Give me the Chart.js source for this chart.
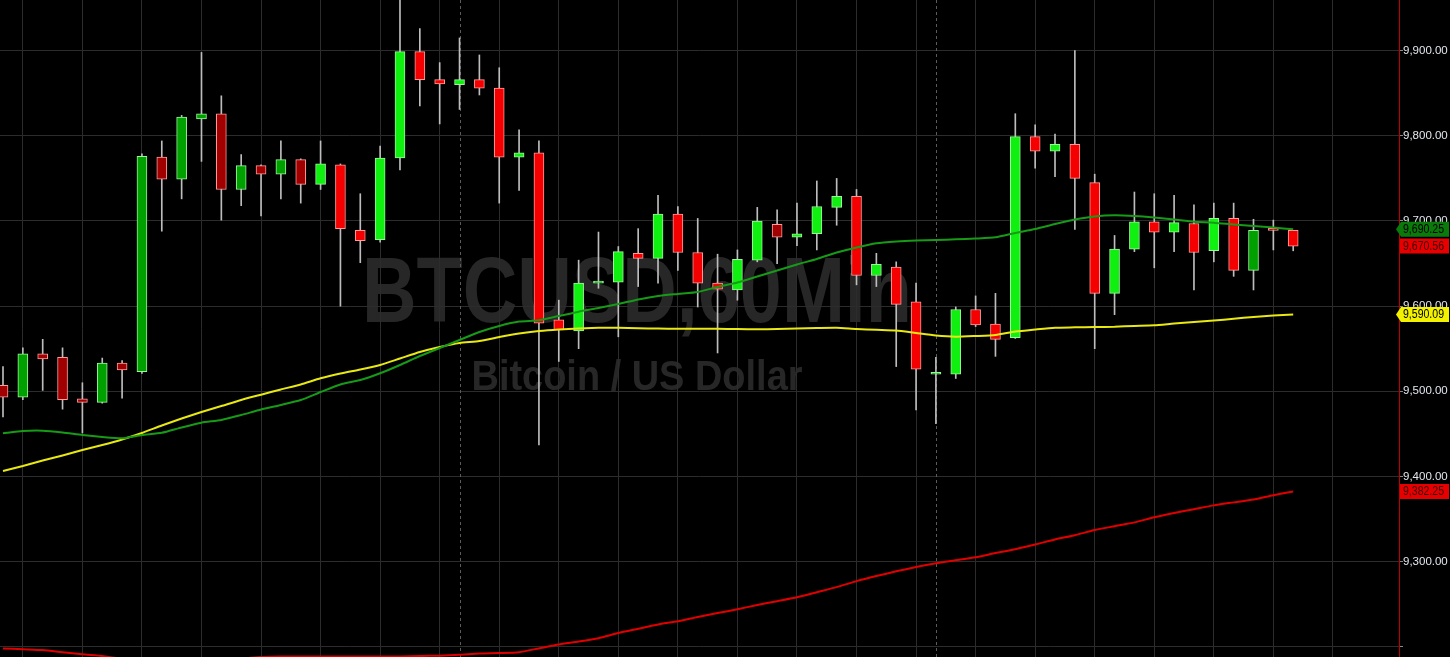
<!DOCTYPE html>
<html>
<head>
<meta charset="utf-8">
<title>BTCUSD 60Min</title>
<script src="https://cdn.jsdelivr.net/npm/chart.js@4.4.1/dist/chart.umd.min.js"></script>
<style>
  html, body { margin: 0; padding: 0; background: #000; overflow: hidden; }
  canvas { display: block; }
</style>
</head>
<body>
<canvas id="btc" width="1450" height="657"></canvas>
<script>
// hourly candles, oldest first (index = hour slot)
const opens  = [9507, 9493, 9544, 9540, 9491, 9487, 9533, 9523, 9775, 9749, 9820, 9826, 9737, 9765, 9755, 9772,
                9743, 9766, 9689, 9678, 9774, 9899, 9866, 9860, 9866, 9856, 9775, 9780, 9584, 9571, 9627, 9628,
                9662, 9656, 9708, 9663, 9627, 9619, 9654, 9696, 9681, 9685, 9716, 9729, 9636, 9646, 9605, 9520,
                9520, 9596, 9579, 9563, 9799, 9782, 9790, 9745, 9615, 9667, 9699, 9687, 9697, 9665, 9703, 9642,
                9691, 9689];
const highs  = [9529, 9551, 9561, 9551, 9510, 9539, 9536, 9779, 9794, 9824, 9898, 9847, 9778, 9766, 9794, 9773,
                9794, 9767, 9732, 9788, 9962, 9926, 9886, 9915, 9895, 9880, 9807, 9794, 9607, 9654, 9687, 9670,
                9691, 9730, 9717, 9703, 9661, 9666, 9716, 9713, 9721, 9747, 9750, 9737, 9662, 9652, 9627, 9540,
                9599, 9612, 9615, 9826, 9813, 9802, 9900, 9755, 9683, 9734, 9732, 9730, 9719, 9721, 9721, 9702,
                9701, 9689];
const lows   = [9470, 9490, 9501, 9479, 9451, 9486, 9492, 9521, 9688, 9726, 9770, 9701, 9718, 9706, 9726, 9721,
                9737, 9600, 9651, 9675, 9760, 9835, 9814, 9831, 9848, 9721, 9736, 9437, 9535, 9550, 9621, 9564,
                9623, 9627, 9642, 9599, 9545, 9607, 9652, 9650, 9671, 9666, 9695, 9625, 9623, 9529, 9478, 9462,
                9515, 9576, 9541, 9562, 9762, 9752, 9690, 9550, 9590, 9664, 9645, 9664, 9619, 9652, 9635, 9619,
                9666, 9665];
const closes = [9493, 9544, 9538, 9490, 9487, 9533, 9525, 9776, 9749, 9822, 9826, 9737, 9765, 9755, 9772, 9743,
                9767, 9691, 9677, 9774, 9899, 9866, 9861, 9866, 9856, 9775, 9780, 9580, 9572, 9627, 9628, 9664,
                9656, 9708, 9663, 9627, 9620, 9655, 9700, 9681, 9685, 9717, 9729, 9636, 9649, 9602, 9526, 9521,
                9596, 9578, 9561, 9799, 9782, 9790, 9750, 9615, 9667, 9699, 9687, 9698, 9663, 9703, 9642, 9689,
                9689, 9670.56];

// moving averages, one value per candle
const maGreen  = [9450.7, 9453.3, 9453.7, 9451.6, 9448.6, 9446.3, 9444.8, 9448.6, 9451.3, 9457.5, 9463.1, 9466.3,
                  9472.1, 9478.6, 9483.9, 9489.7, 9499.1, 9508.0, 9513.2, 9521.1, 9530.9, 9541.4, 9550.8, 9560.2,
                  9569.6, 9576.7, 9581.9, 9583.4, 9588.4, 9593.5, 9597.8, 9602.5, 9607.8, 9611.9, 9614.3, 9616.6,
                  9622.5, 9627.8, 9634.8, 9641.8, 9648.9, 9655.4, 9663.0, 9668.9, 9673.8, 9675.9, 9677.1, 9677.7,
                  9678.5, 9679.4, 9680.8, 9685.9, 9690.6, 9696.5, 9701.7, 9705.3, 9706.7, 9705.9, 9704.1, 9701.7,
                  9699.0, 9698.0, 9695.9, 9694.1, 9692.3, 9690.25];
const maYellow = [9406.4, 9412.2, 9418.7, 9424.6, 9431.0, 9436.9, 9443.4, 9451.0, 9459.8, 9468.0, 9475.7, 9482.7,
                  9489.8, 9496.0, 9502.1, 9508.0, 9515.2, 9520.9, 9525.6, 9530.9, 9538.5, 9546.1, 9552.0, 9556.7,
                  9559.0, 9563.7, 9567.9, 9570.8, 9572.6, 9573.7, 9574.6, 9574.7, 9574.1, 9573.6, 9573.4, 9573.4,
                  9573.4, 9573.1, 9572.9, 9573.1, 9573.8, 9574.3, 9574.6, 9573.1, 9572.2, 9571.4, 9568.4, 9565.5,
                  9564.1, 9564.9, 9566.1, 9570.2, 9572.6, 9574.7, 9575.1, 9575.5, 9575.8, 9576.7, 9577.5, 9579.6,
                  9581.4, 9583.1, 9585.2, 9587.2, 9589.0, 9590.09];
const maRed    = [9198.0, 9197.0, 9196.0, 9193.5, 9191.0, 9189.0, 9186.0, 9185.0, 9184.0, 9184.0, 9184.0, 9185.0,
                  9186.0, 9188.0, 9188.5, 9188.5, 9188.5, 9188.5, 9188.5, 9188.5, 9188.5, 9189.0, 9189.5, 9190.5,
                  9192.0, 9192.5, 9193.5, 9198.0, 9202.5, 9206.0, 9210.0, 9216.0, 9221.0, 9226.0, 9230.0, 9235.0,
                  9239.5, 9244.0, 9249.0, 9253.5, 9258.0, 9264.0, 9270.0, 9277.0, 9283.0, 9288.5, 9293.5, 9298.0,
                  9301.5, 9305.0, 9310.0, 9314.5, 9320.0, 9326.0, 9331.0, 9337.0, 9341.5, 9346.0, 9352.0, 9357.0,
                  9361.5, 9366.0, 9369.5, 9373.0, 9378.0, 9382.25];

const yTicks      = [9200, 9300, 9400, 9500, 9600, 9700, 9800, 9900];
const yTickLabels = ['', '9,300.00', '9,400.00', '9,500.00', '9,600.00', '9,700.00', '9,800.00', '9,900.00'];
const daySplits   = [23, 47];

// candles drawn in the muted shade
const mutedCandles = [0, 1, 2, 3, 4, 5, 6, 7, 8, 9, 10, 11, 12, 13, 14, 15, 39, 63];

const last = closes.length - 1;

function candleFill(i) {
    const up = closes[i] >= opens[i];
    const muted = mutedCandles.includes(i);
    if (up) return muted ? '#00a000' : '#10f010';
    return muted ? '#a00000' : '#f40000';
}
function candleEdge(i) {
    return closes[i] >= opens[i] ? '#9cf59c' : '#ff9a9a';
}

const fmt = v => v.toLocaleString('en-US', { minimumFractionDigits: 2, maximumFractionDigits: 2 });

const backdrop = {
    id: 'backdrop',
    beforeDraw(chart) {
        const { ctx, width, height } = chart;
        ctx.save();
        ctx.fillStyle = '#000';
        ctx.fillRect(0, 0, width, height);
        ctx.fillStyle = '#272727';
        ctx.textAlign = 'center';
        ctx.textBaseline = 'alphabetic';
        const marks = [
            { text: 'BTCUSD,60Min', size: 93, base: 322, w: 550 },
            { text: 'Bitcoin / US Dollar', size: 42, base: 390, w: 331 },
        ];
        marks.forEach(m => {
            ctx.font = 'bold ' + m.size + 'px "Liberation Sans", Arial, sans-serif';
            const k = m.w / ctx.measureText(m.text).width;
            ctx.save();
            ctx.translate(637, m.base);
            ctx.scale(k, 1);
            ctx.fillText(m.text, 0, 0);
            ctx.restore();
        });
        ctx.restore();
    }
};

const daySep = {
    id: 'daySep',
    beforeDatasetsDraw(chart) {
        const { ctx, chartArea, scales } = chart;
        ctx.save();
        ctx.strokeStyle = '#5c5c5c';
        ctx.lineWidth = 1;
        ctx.setLineDash([3, 3]);
        daySplits.forEach(i => {
            const x = Math.round(scales.x.getPixelForValue(i)) + 0.5;
            ctx.beginPath();
            ctx.moveTo(x, chartArea.top);
            ctx.lineTo(x, chartArea.bottom);
            ctx.stroke();
        });
        ctx.restore();
    }
};

const priceTags = {
    id: 'priceTags',
    afterDraw(chart) {
        const { ctx, chartArea, scales } = chart;
        const tags = [
            { v: maGreen[last],  bg: '#0a7a0a', fg: '#000', arrow: true },
            { v: closes[last],   bg: '#e80000', fg: '#3a0000', arrow: false },
            { v: maYellow[last], bg: '#f2f200', fg: '#000', arrow: true },
            { v: maRed[last],    bg: '#e80000', fg: '#3a0000', arrow: false },
        ];
        const x0 = chartArea.right;
        ctx.save();
        // axis border
        ctx.strokeStyle = '#c00000';
        ctx.lineWidth = 1;
        ctx.beginPath();
        ctx.moveTo(x0 + 0.5, 0);
        ctx.lineTo(x0 + 0.5, chart.height);
        ctx.stroke();

        ctx.font = '12px "Liberation Sans", Arial, sans-serif';
        ctx.textBaseline = 'middle';
        ctx.textAlign = 'left';
        tags.forEach(t => {
            const y = scales.y.getPixelForValue(t.v);
            ctx.fillStyle = t.bg;
            ctx.beginPath();
            if (t.arrow) {
                ctx.moveTo(x0 - 3, y);
                ctx.lineTo(x0 + 2, y - 7.5);
            } else {
                ctx.moveTo(x0 + 1, y - 7.5);
            }
            ctx.lineTo(1449, y - 7.5);
            ctx.lineTo(1449, y + 7.5);
            ctx.lineTo(t.arrow ? x0 + 2 : x0 + 1, y + 7.5);
            ctx.closePath();
            ctx.fill();
            const s = fmt(t.v);
            const k = 41 / ctx.measureText(s).width;
            ctx.save();
            ctx.translate(x0 + 4, y + 0.5);
            ctx.scale(k, 1);
            ctx.fillStyle = t.fg;
            ctx.fillText(s, 0, 0);
            ctx.restore();
        });
        ctx.restore();
    }
};

const lineSet = (vals, color) => ({
    type: 'line',
    data: vals.map((v, i) => ({ x: i, y: v })),
    borderColor: color,
    borderWidth: 2,
    pointRadius: 0,
    tension: 0.2,
    order: 0
});

new Chart(document.getElementById('btc'), {
    type: 'bar',
    data: {
        datasets: [
            lineSet(maGreen, '#179a17'),
            lineSet(maYellow, '#e8e812'),
            lineSet(maRed, '#e00000'),
            {
                type: 'bar',
                data: closes.map((c, i) => ({ x: i, y: [opens[i], c] })),
                backgroundColor: ctx => candleFill(ctx.dataIndex),
                borderColor: ctx => candleEdge(ctx.dataIndex),
                borderWidth: 1,
                borderSkipped: false,
                barThickness: 10,
                minBarLength: 2,
                grouped: false,
                order: 1
            },
            {
                type: 'bar',
                data: highs.map((h, i) => ({ x: i, y: [lows[i], h] })),
                backgroundColor: '#bdbdbd',
                borderWidth: 0,
                barThickness: 1,
                grouped: false,
                order: 2
            }
        ]
    },
    options: {
        responsive: false,
        animation: false,
        events: [],
        layout: { padding: 0 },
        plugins: {
            legend: { display: false },
            tooltip: { enabled: false }
        },
        scales: {
            x: {
                type: 'linear',
                offset: false,
                min: -0.151,
                max: 70.33,
                ticks: { display: false },
                grid: { color: '#2c2c2c', drawTicks: false, offset: false },
                border: { display: false },
                afterBuildTicks: scale => {
                    const t = [];
                    for (let i = 1; i <= 67; i += 3) t.push({ value: i });
                    scale.ticks = t;
                },
                afterFit: scale => {
                    scale.height = 0;
                    scale.paddingLeft = 0;
                    scale.paddingRight = 0;
                }
            },
            y: {
                position: 'right',
                min: 9187.9,
                max: 9959.55,
                afterBuildTicks: scale => {
                    scale.ticks = yTicks.map(v => ({ value: v }));
                },
                ticks: {
                    color: '#e2e7ee',
                    padding: 0,
                    font: { size: 11.5, family: '"Liberation Sans", Arial, sans-serif' },
                    callback: v => yTickLabels[yTicks.indexOf(v)] || ''
                },
                grid: { color: '#2c2c2c', tickLength: 4, tickColor: '#8a8a8a' },
                border: { color: '#c00000', width: 1 },
                afterFit: scale => {
                    scale.width = 51;
                    scale.paddingTop = 0;
                    scale.paddingBottom = 0;
                }
            }
        }
    },
    plugins: [backdrop, daySep, priceTags]
});
</script>
</body>
</html>
